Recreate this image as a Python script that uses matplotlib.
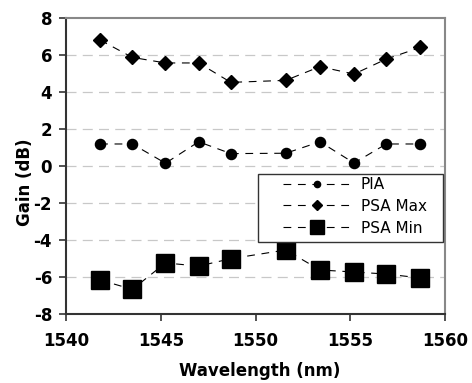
import matplotlib
matplotlib.use("Agg")
import matplotlib.pyplot as plt
from matplotlib.patches import Rectangle

wavelength = [1541.8, 1543.5, 1545.25, 1547.0, 1548.7, 1551.6, 1553.4, 1555.2, 1556.9, 1558.7]
pia = [1.19, 1.19, 0.15, 1.31, 0.67, 0.69, 1.31, 0.16, 1.19, 1.19]
psa_max = [6.81, 5.87, 5.57, 5.57, 4.52, 4.63, 5.37, 4.97, 5.78, 6.41]
psa_min = [-6.16, -6.67, -5.24, -5.41, -5.01, -4.54, -5.62, -5.73, -5.84, -6.05]

x_ticks = [1540, 1545, 1550, 1555, 1560]
y_ticks = [-8, -6, -4, -2, 0, 2, 4, 6, 8]

fig = plt.figure(figsize=(4.72, 3.83), dpi=100)
W, H = 472, 383
AX_L, AX_R, AX_T, AX_B = 66, 445, 18, 314
ax = fig.add_axes([AX_L / W, 1 - AX_B / H, (AX_R - AX_L) / W, (AX_B - AX_T) / H])


def fx(px):
    return (px - AX_L) / (AX_R - AX_L)


def fy(py):
    return (AX_B - py) / (AX_B - AX_T)


for y in y_ticks[1:-1]:
    ax.axhline(y, color="#c8c8c8", lw=0.9, dashes=(8, 5), zorder=0)

lkw = dict(color="black", lw=0.8, dashes=(7, 6))
ax.plot(wavelength, pia, marker="o", ms=7.3, mfc="black", mec="black", label="PIA", **lkw)
ax.plot(wavelength, psa_max, marker="D", ms=6.8, mfc="black", mec="black", label="PSA Max", **lkw)
ax.plot(wavelength, psa_min, marker="s", ms=12.3, mfc="black", mec="black", label="PSA Min", **lkw)

ax.set_xlim(1540, 1560)
ax.set_ylim(-8, 8)
ax.set_xticks(x_ticks)
ax.set_yticks(y_ticks)

tick_font = dict(family="DejaVu Sans", weight="bold", size=12)
ax.set_xticklabels([str(v) for v in x_ticks], **tick_font)
ax.set_yticklabels([str(v) for v in y_ticks], **tick_font)
ax.tick_params(axis="both", direction="out", length=5, width=1.2, color="#333333")
ax.tick_params(axis="x", pad=8)
ax.tick_params(axis="y", pad=5)

for side in ["left", "bottom"]:
    ax.spines[side].set_color("#333333")
    ax.spines[side].set_linewidth(1.5)
for side in ["top", "right"]:
    ax.spines[side].set_color("#888888")
    ax.spines[side].set_linewidth(1.5)

ax.set_xlabel("Wavelength (nm)", family="DejaVu Sans", weight="bold", size=12)
ax.xaxis.set_label_coords(fx(260), fy(371))
ax.xaxis.label.set_va("center")
ax.set_ylabel("Gain (dB)", family="DejaVu Sans", weight="bold", size=12)
ax.yaxis.set_label_coords(fx(25), fy(182))
ax.yaxis.label.set_va("center")

# legend frame (drawn as a box so its padding matches the original)
frame = Rectangle((fx(258), fy(242)), fx(443) - fx(258), fy(174) - fy(242),
                  transform=ax.transAxes, facecolor="white", edgecolor="#333333",
                  lw=1.0, zorder=4)
ax.add_patch(frame)

leg = ax.legend(loc="lower right", bbox_to_anchor=(fx(432), fy(241)),
                frameon=False, prop=dict(family="DejaVu Sans", size=11),
                handlelength=4.5, handletextpad=0.6, borderpad=0.35,
                labelspacing=0.45, borderaxespad=0)
leg.set_zorder(5)
sizes = [4.5, 5, 10.5]
for h, s in zip(leg.legend_handles, sizes):
    h.set_markersize(s)

fig.savefig("out.png", dpi=100)
